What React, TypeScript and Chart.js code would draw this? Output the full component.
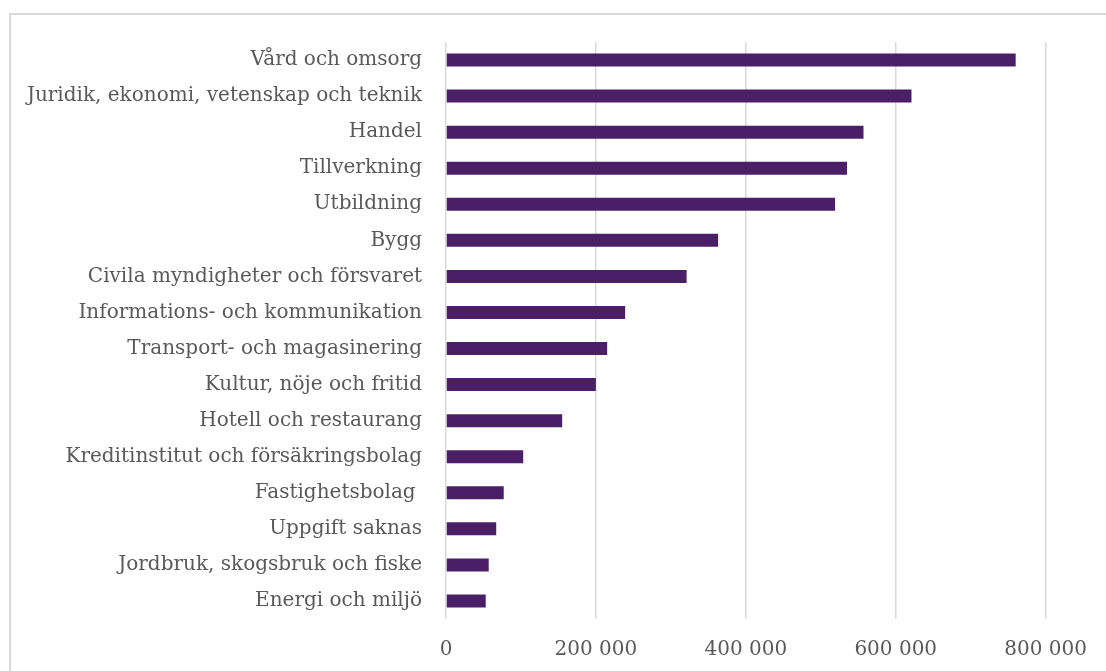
import React, { useEffect, useRef } from "react";
import { Chart, registerables } from "chart.js";

Chart.register(...registerables);

const categories = [
  "Vård och omsorg",
  "Juridik, ekonomi, vetenskap och teknik",
  "Handel",
  "Tillverkning",
  "Utbildning",
  "Bygg",
  "Civila myndigheter och försvaret",
  "Informations- och kommunikation",
  "Transport- och magasinering",
  "Kultur, nöje och fritid",
  "Hotell och restaurang",
  "Kreditinstitut och försäkringsbolag",
  "Fastighetsbolag ",
  "Uppgift saknas",
  "Jordbruk, skogsbruk och fiske",
  "Energi och miljö",
];

const values = [
  760000, 621000, 557000, 535000, 519000, 363000, 321000, 239000, 215000,
  200000, 155000, 103000, 77000, 67000, 57000, 53000,
];

const axisMin = 0;
const axisMax = 800000;
const axisStep = 200000;

const fmt = (v: number) =>
  String(Math.round(v)).replace(/\B(?=(\d{3})+(?!\d))/g, " ");

export default function App() {
  const ref = useRef<HTMLCanvasElement | null>(null);

  useEffect(() => {
    if (!ref.current) return;
    const font = { family: "'DejaVu Serif', serif", size: 20 };
    const chart = new Chart(ref.current, {
      type: "bar",
      data: {
        labels: categories,
        datasets: [
          {
            data: values,
            backgroundColor: "#4B1F68",
            borderWidth: 0,
            categoryPercentage: 1,
            barPercentage: 0.36,
          },
        ],
      },
      options: {
        indexAxis: "y",
        animation: false,
        responsive: false,
        devicePixelRatio: 1,
        layout: { padding: { top: 42, right: 60, bottom: 0, left: 0 } },
        plugins: {
          legend: { display: false },
          tooltip: { enabled: false },
        },
        scales: {
          x: {
            min: axisMin,
            max: axisMax,
            grid: { color: "#d9d9d9", lineWidth: 1.5, drawTicks: false },
            border: { display: false },
            ticks: {
              stepSize: axisStep,
              color: "#595959",
              font,
              padding: 19,
              maxRotation: 0,
              callback: (v: any) => fmt(Number(v)),
            },
            afterFit: (s: any) => {
              s.height = 52;
            },
          },
          y: {
            grid: { display: false, drawTicks: false },
            border: { display: false },
            ticks: { color: "#595959", font, padding: 24, autoSkip: false },
            afterFit: (s: any) => {
              s.width = 446;
            },
          },
        },
      },
    });
    return () => chart.destroy();
  }, []);

  return (
    <div
      style={{
        position: "fixed",
        inset: 0,
        overflow: "hidden",
        background: "#fff",
      }}
    >
      <div
        style={{
          position: "absolute",
          left: 9,
          top: 13,
          width: 1300,
          height: 900,
          border: "2px solid #d9d9d9",
          boxSizing: "border-box",
        }}
      />
      <canvas
        ref={ref}
        width={1106}
        height={671}
        style={{ position: "absolute", left: 0, top: 0 }}
      />
    </div>
  );
}
